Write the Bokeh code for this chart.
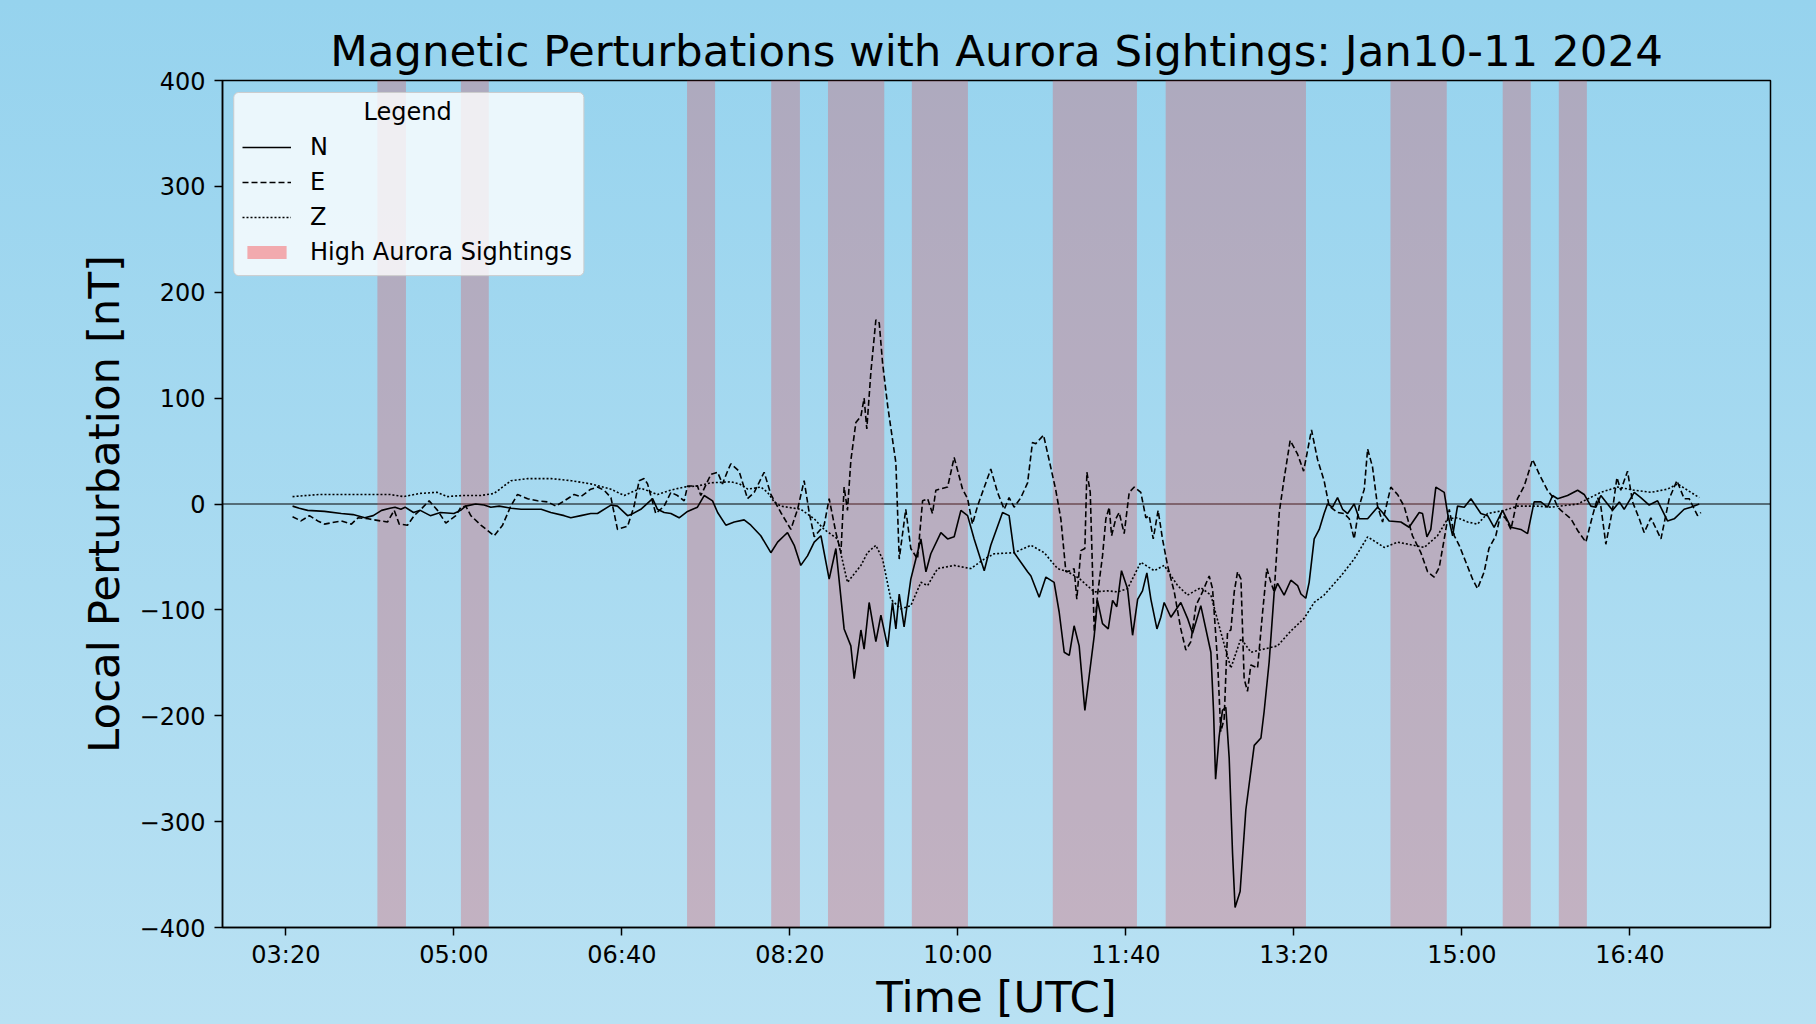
from bokeh.plotting import figure
from bokeh.models import (ColumnDataSource, FixedTicker, Span, Legend, LegendItem, Range1d, Label,
                          BoxAnnotation)
from bokeh.embed import file_html
from bokeh.resources import INLINE

# ---------------- data (time in minutes since 00:00 UTC) ----------------
n_time = [204, 208, 213, 223, 233, 240, 247, 252, 257, 262, 265, 268.5, 271, 276, 280, 286, 292, 300,
          304, 307, 313, 318, 322, 327, 334, 340, 346, 352, 357.7, 365.7, 369.6, 375.6, 381.5, 385.5,
          393.5, 397.4, 403.4, 405.4, 411.3, 418.3, 421.2, 425.2, 429.2, 434.1, 439.1, 445, 449, 454,
          457, 461.9, 466.9, 472.8, 476.8, 482.7, 488.7, 492.7, 496.6, 498.6, 502.6, 506.5, 510.5,
          514.5, 518.5, 523.4, 527.4, 532.3, 536.3, 538.3, 542.3, 544.2, 547.2, 551.2, 554.2, 558.2,
          561.1, 563.1, 565.1, 568, 572, 575, 578, 581, 583.9, 589.9, 593.9, 597.8, 601.8, 605.8,
          609.7, 615.7, 619.6, 626.6, 630.5, 633.5, 641.5, 643.5, 648.4, 652.4, 657.3, 660.3, 663.3,
          666.3, 669.2, 672.2, 675.6, 678.2, 681.2, 683.1, 686.1, 689.5, 692.1, 694.6, 697.4, 701,
          704, 707, 709.9, 712.5, 714.9, 718.5, 720.8, 722.8, 726.8, 732.7, 736.7, 739.7, 744.6,
          750.6, 752.2, 753.4, 755.5, 757.5, 759.5, 761.5, 763.5, 765, 768, 771.4, 776.4, 780.4,
          782.3, 785.3, 788.3, 790.3, 794.2, 798.2, 802.2, 804.2, 807.1, 809.1, 812.1, 815.1, 818,
          820, 823, 826, 829, 832, 835.9, 838.9, 843.9, 849.8, 852.8, 856.7, 863.7, 868.6, 874.6,
          876.6, 879.2, 881.5, 884.5, 889.5, 891.5, 894.5, 897.4, 901.4, 905.4, 911.3, 915.3, 919.2,
          924.2, 929.2, 935.1, 939.1, 943, 947, 951, 954, 957, 962.9, 968.9, 972.8, 976.8, 979.8,
          982.7, 986.7, 989.7, 993.7, 996.6, 1002.6, 1006.5, 1011.5, 1016.5, 1022.4, 1026.4, 1032.3,
          1036.3, 1041.3]
n_vals = [-2, -4, -6, -7, -9, -10, -13, -11, -6, -4, -3, -5, -3, -8, -6, -11, -8, -9,
          -6, -2, 0, -1, -3, -2, -4, -5, -5, -5, -8, -11, -13, -11, -9, -9,
          -1, -2, -11, -10, -5, 5, -5, -8, -9, -13, -7, -3, 8, 3,
          -8, -20, -17, -15, -20, -30, -46, -36, -30, -27, -39, -58, -49,
          -36, -30, -71, -42, -118, -134, -165, -119, -137, -93, -130, -105, -135,
          -93, -118, -85, -116, -71, -52, -33, -64, -47, -27, -33, -31, -6, -11,
          -33, -63, -39, -8, -11, -46, -64, -68, -88, -69, -74, -102, -140,
          -143, -115, -134, -195, -162, -124, -91, -113, -118, -91, -97, -63, -80,
          -124, -90, -82, -65, -90, -118, -107, -93, -107, -93, -108, -122, -96,
          -140, -196, -260, -220, -195, -192, -240, -330, -381, -366, -289, -228, -221,
          -196, -149, -83, -75, -86, -72, -77, -85, -89, -74, -33, -24, -9,
          0, -3, 6, -5, -9, 0, -14, -14, -3, -8, -16, -17, -22, -8,
          -9, -31, -24, 16, 11, -9, -30, -2, -3, 5, -9, -11, -22,
          -6, -22, -24, -28, 2, 2, -3, 8, 5, 8, 13, 9, -2, -3,
          8, 0, -6, 2, -5, 11, 6, -1, 3, -16, -14, -5,
          -3, 0]

e_time = [204, 209, 214, 219, 223, 233, 239, 243, 249, 256.5, 260.5, 264.5, 267.5, 272.4, 276.4,
          280.4, 285.3, 290.3, 295.2, 301.2, 304.2, 307.1, 310.1, 316.1, 324, 329, 333.9, 337.9,
          343.9, 349.8, 355.8, 360.7, 365.7, 371.6, 375.6, 381.5, 385.5, 389.5, 393.5, 397.4, 403.4,
          407.3, 410.3, 413.3, 415.3, 420.2, 425.2, 429.2, 433.1, 437.1, 439.1, 445, 447, 453, 457,
          459.9, 462.9, 464.9, 469.8, 474.8, 478.8, 484.7, 488.7, 494.6, 500.6, 504.6, 508.5, 511.5,
          514.5, 520.4, 523.4, 527.4, 530.4, 532.3, 534.3, 536.3, 539.3, 542.3, 544.2, 545.8, 548.2,
          551.2, 553.2, 555.2, 558.2, 563.1, 565.1, 569, 572, 576, 579, 582, 584.9, 586.9, 593.9,
          597.8, 602.8, 605.8, 608.7, 611.7, 619.6, 623.6, 627.6, 630.5, 633.5, 637.5, 641.5, 644.4,
          646.4, 651, 654.4, 658.3, 661.3, 664.3, 667.3, 669.2, 670.8, 673.2, 675.6, 676.8, 678.8,
          681.2, 683.1, 686.1, 688.1, 690.1, 691.5, 694, 696, 699, 702, 705, 708.9, 711.9, 713.9,
          716.3, 719.2, 721.8, 724.8, 728.8, 732.7, 735.7, 738.7, 741.7, 745.6, 749.6, 751.6, 754.6,
          756.5, 758.5, 760.5, 762.5, 764.5, 766.5, 768.5, 770.4, 772.4, 774.4, 778.4, 781.4, 783.9,
          786.3, 788.3, 791.3, 794.2, 797.8, 802.2, 805.8, 810.5, 814.1, 818, 821, 826, 830, 833,
          835.9, 838.9, 841.9, 843.9, 846.8, 849.8, 852.8, 857.7, 861.7, 865.6, 870.6, 875.6, 879.6,
          883.5, 886.5, 889.5, 892.5, 895.5, 898.4, 902.4, 906.4, 909.3, 913.3, 916.1, 920.2, 923.2,
          926.2, 929.2, 933.1, 937.1, 942.1, 946.1, 950.9, 954.9, 957, 959, 964.9, 968.9, 973.8,
          977.8, 980.8, 982.7, 985.7, 989.7, 992.3, 994.6, 998.6, 1001.6, 1005.6, 1008.5, 1012.5,
          1018.5, 1023.4, 1028, 1032.3, 1035.3, 1040.3, 1042.3]
e_vals = [-12, -16, -11, -16, -19, -16, -19, -13, -14, -16, -17, -6, -19, -20, -11,
          -5, 3, -6, -18, -11, -3, -2, -11, -20, -30, -20, -2, 9,
          5, 3, 2, -2, 3, 9, 7, 14, 16, 13, 6, -24, -21,
          -2, 22, 24, 19, -9, -2, 11, 8, 3, 17, 17, 8, 28, 30,
          19, 31, 38, 31, 5, 11, 30, 9, -8, -24, -5, 22, -8,
          -31, -20, 5, -27, -46, 16, -6, 41, 77, 83, 100, 71, 124,
          174, 171, 133, 93, 39, -52, -5, -42, -52, 3, 5, -9, 13, 16,
          44, 14, 5, -19, -2, 33, 11, -5, 6, -3, 6, 20, 58,
          57, 65, 41, 13, -14, -64, -63, -61, -90, -44, -42, 30, 11,
          -121, -86, -49, -14, -3, -30, -14, -8, -28, 11, 16, 11, -13, -11,
          -33, -6, -33, -58, -83, -118, -138, -130, -96, -83, -68, -80, -149,
          -215, -203, -121, -119, -83, -64, -71, -165, -177, -152, -155, -102, -61,
          -74, -83, -8, 24, 60, 47, 31, 70, 42, 22, -2, -8, -9, -14,
          -33, -2, 14, 52, 35, -2, -17, 16, 9, -2, -30, -46, -64,
          -69, -60, -33, -5, -30, -39, -55, -71, -80, -64, -42, -30, -9,
          -14, -24, 5, 17, 42, 28, 13, 5, -3, -6, -14, -25, -36,
          -11, 6, -2, -38, -5, 25, 13, 31, 2, -14, -27, -13,
          -33, 5, 22, 5, 5, -11, -8]

z_time = [204, 220, 240, 262, 270, 280, 290, 296, 305, 316, 324, 334, 344, 352, 358, 370, 381.5,
          393.5, 401.4, 411.3, 421.2, 429, 437, 445, 453, 465, 470, 475, 482.7, 486.7, 490.7, 494.6,
          506.5, 514.5, 520.4, 528.4, 534.3, 542.3, 546.2, 551.2, 555.2, 560.1, 566.1, 572, 578, 582,
          587.9, 597.8, 607.7, 615.7, 621.6, 633.5, 643.5, 651.4, 659.3, 665.3, 672, 681.2, 689.1,
          695, 701, 708.9, 716.9, 722.8, 730.8, 736.7, 744.6, 750.6, 756.5, 762.5, 768.5, 774.4,
          782.3, 790.3, 798.2, 806.1, 812.1, 818, 828, 835.9, 843.9, 853.8, 861.7, 877.6, 885.5,
          891.5, 897.4, 903.4, 909.3, 915.3, 925.2, 933.1, 945, 953, 968.9, 982.7, 992.7, 1002.6,
          1012.5, 1022.4, 1028.4, 1034.3, 1041.3]
z_vals = [7, 9, 9, 9, 7, 10, 11, 7, 8, 8, 10, 22, 24, 24, 24, 22, 19,
          14, 8, 15, 9, 13, 16, 17, 20, 21, 19, 14, 16, 11, 2, -2,
          -5, -14, -24, -33, -74, -58, -46, -39, -52, -90, -99, -96, -74, -77,
          -61, -58, -61, -52, -47, -46, -39, -46, -61, -64, -70, -83, -82,
          -83, -80, -55, -63, -58, -77, -86, -79, -86, -121, -155, -127, -140,
          -137, -134, -120, -108, -93, -86, -68, -52, -31, -41, -36, -41, -30,
          -14, -13, -17, -19, -9, -6, -2, -2, -3, 0, 11, 16, 13,
          11, 14, 19, 13, 6]

# periods of high aurora sightings (minutes since 00:00 UTC)
band_start = [254.5, 304.2, 438.8, 488.9, 522.7, 572.6, 656.5, 723.7, 857.5, 924.3, 957.7]
band_end = [271.5, 320.8, 455.5, 506.0, 556.2, 606.0, 706.6, 807.2, 891.0, 941.0, 974.4]

x_ticks = [200, 300, 400, 500, 600, 700, 800, 900, 1000]
x_tick_labels = ["03:20", "05:00", "06:40", "08:20", "10:00", "11:40", "13:20", "15:00", "16:40"]
y_ticks = [-400, -300, -200, -100, 0, 100, 200, 300, 400]

FONT = "DejaVu Sans"

p = figure(width=1816, height=1024, output_backend="svg", toolbar_location=None,
           x_range=Range1d(162.3, 1083.7), y_range=Range1d(-400, 400),
           min_border_left=222, min_border_right=46, min_border_top=80, min_border_bottom=94)

p.styles = {"background": "linear-gradient(to bottom, #96d3ee 0%, #b9e1f3 100%)"}
p.background_fill_alpha = 0
p.border_fill_alpha = 0
p.outline_line_color = "black"
p.outline_line_width = 1.5
p.grid.visible = False

# title
p.title.text = "Magnetic Perturbations with Aurora Sightings: Jan10-11 2024"
p.title.text_font = FONT
p.title.text_font_size = "43.5px"
p.title.text_font_style = "normal"
p.title.text_color = "black"
p.title.align = "center"
p.title.standoff = 9

# zero line (under bands)
zero = Span(location=0, dimension="width", line_color="black", line_width=1, level="underlay")
p.add_layout(zero)

# bands
band_src = ColumnDataSource(dict(left=band_start, right=band_end,
                                 bottom=[-400] * len(band_start), top=[400] * len(band_start)))
p.quad(left="left", right="right", bottom="bottom", top="top", source=band_src,
       fill_color="#dc5059", fill_alpha=0.32, line_color=None)

rN = p.line(n_time, n_vals, line_color="black", line_width=1.6)
rE = p.line(e_time, e_vals, line_color="black", line_width=1.6, line_dash="6 3")
rZ = p.line(z_time, z_vals, line_color="black", line_width=1.6, line_dash="2 2")

# legend swatch renderer (placed outside the visible x range)
swatch_src = ColumnDataSource(dict(left=[0], right=[1], bottom=[0], top=[1]))
rB = p.quad(left="left", right="right", bottom="bottom", top="top", source=swatch_src,
            fill_color="#f2aaae", fill_alpha=1.0, line_color=None)

# axes
for ax in (p.xaxis[0], p.yaxis[0]):
    ax.major_label_text_font = FONT
    ax.major_label_text_font_size = "24px"
    ax.major_label_text_color = "black"
    ax.axis_label_text_font = FONT
    ax.axis_label_text_font_size = "43.5px"
    ax.axis_label_text_font_style = "normal"
    ax.axis_label_text_color = "black"
    ax.major_tick_out = 8
    ax.major_tick_in = 0
    ax.major_tick_line_width = 1.5
    ax.minor_tick_line_color = None
    ax.axis_line_width = 1.5

p.xaxis.ticker = FixedTicker(ticks=x_ticks)
p.xaxis.major_label_overrides = {t: l for t, l in zip(x_ticks, x_tick_labels)}
p.xaxis.axis_label = "Time [UTC]"
p.xaxis.major_label_standoff = 5
p.xaxis.axis_label_standoff = 0

p.yaxis.ticker = FixedTicker(ticks=y_ticks)
p.yaxis.major_label_overrides = {t: (str(t).replace("-", "\u2212")) for t in y_ticks}
p.yaxis.axis_label = "Local Perturbation [nT]"
p.yaxis.major_label_standoff = 9
p.yaxis.axis_label_standoff = 8

# legend frame (semi-transparent white box with rounded corners)
legend_frame = BoxAnnotation(left=169.0, right=377.4, top=388.7, bottom=215.7,
                             fill_color="white", fill_alpha=0.8,
                             line_color="#cccccc", line_width=1, line_alpha=1.0,
                             border_radius=5)
p.add_layout(legend_frame)

# centred legend heading
legend_heading = Label(x=272.5, y=370, text="Legend", text_align="center", text_baseline="middle",
                       text_font=FONT, text_font_size="24px", text_color="black")
p.add_layout(legend_heading)

legend = Legend(items=[LegendItem(label="N", renderers=[rN]),
                       LegendItem(label="E", renderers=[rE]),
                       LegendItem(label="Z", renderers=[rZ]),
                       LegendItem(label="High Aurora Sightings", renderers=[rB])],
                location="top_left", title=" ")
legend.title_text_font = FONT
legend.title_text_font_size = "24px"
legend.title_text_font_style = "normal"
legend.title_text_color = "black"
legend.label_text_font = FONT
legend.label_text_font_size = "24px"
legend.label_text_color = "black"
legend.glyph_width = 49
legend.glyph_height = 16
legend.label_standoff = 19
legend.padding = 7
legend.spacing = 7
legend.margin = 20
legend.background_fill_alpha = 0
legend.border_line_color = None
p.add_layout(legend)

open("out.html", "w").write(file_html(p, INLINE))
